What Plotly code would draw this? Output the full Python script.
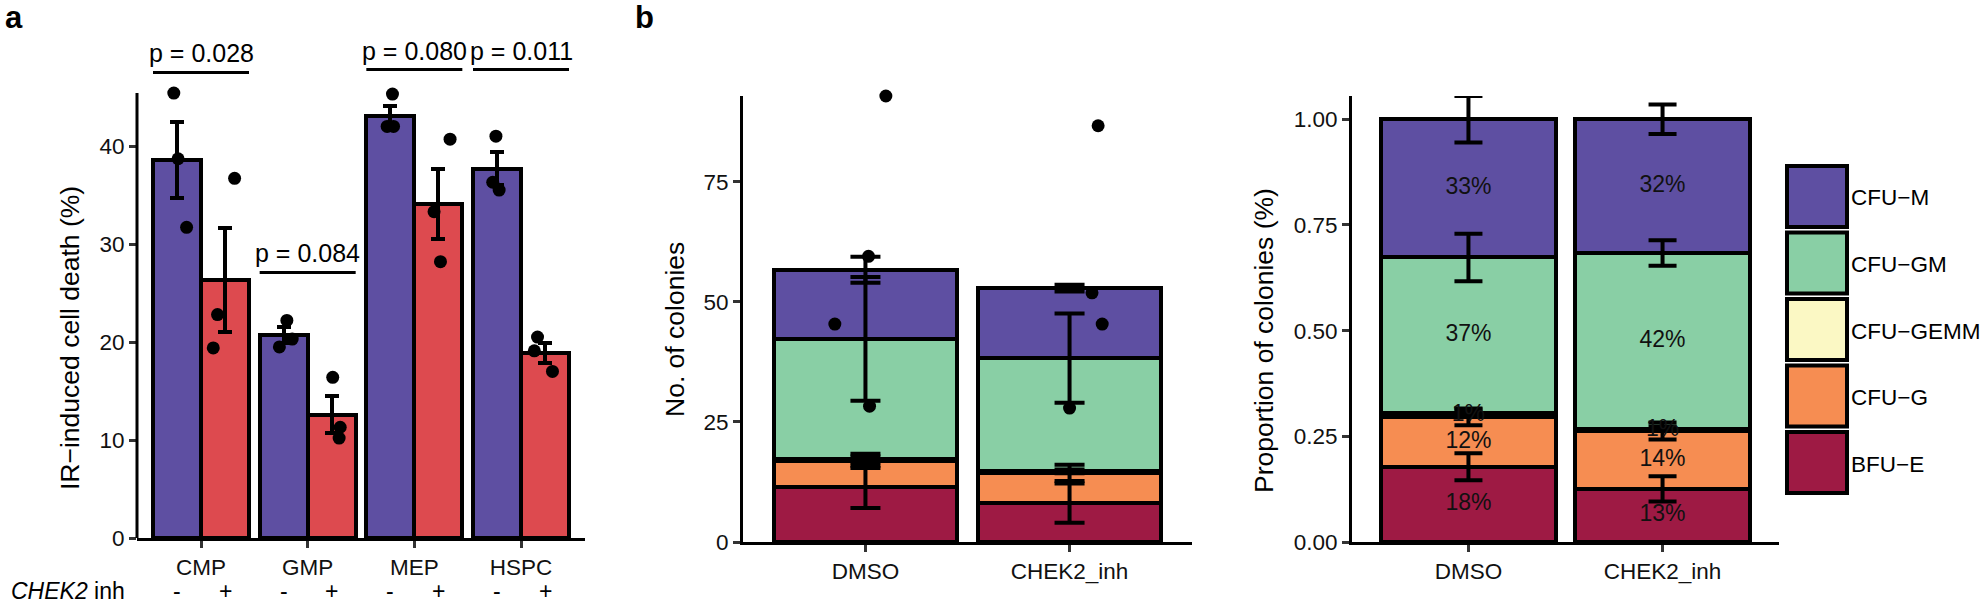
import plotly.graph_objects as go

W, H = 1988, 603
FONT = "Liberation Sans, Arial, Helvetica, sans-serif"

# ---------------- Panel a data ----------------
cell_types = ["CMP", "GMP", "MEP", "HSPC"]
death_ctrl = [38.6, 20.7, 43.1, 37.7]
death_inh = [26.3, 12.6, 34.1, 18.9]
se_ctrl = [3.9, 0.8, 1.0, 1.7]
se_inh = [5.3, 1.9, 3.6, 1.0]
pts_ctrl = [[45.4, 38.7, 31.7], [22.2, 19.5, 20.3], [45.3, 42.0, 42.0], [41.0, 36.3, 35.5]]
pts_inh = [[36.7, 22.8, 19.4], [16.4, 11.3, 10.2], [40.7, 33.3, 28.2], [20.5, 19.1, 17.0]]
jit_ctrl = [[-0.03, 0.01, 0.09], [0.03, -0.04, 0.08], [0.02, -0.03, 0.03], [-0.01, -0.04, 0.02]]
jit_inh = [[0.09, -0.07, -0.11], [0.01, 0.08, 0.07], [0.11, -0.04, 0.02], [-0.07, -0.10, 0.07]]
p_labels = ["p = 0.028", "p = 0.084", "p = 0.080", "p = 0.011"]
p_heights = [47.5, 27.1, 47.8, 47.8]
inh_signs = ["-", "+"]

# ---------------- Panel b data ----------------
treatments = ["DMSO", "CHEK2_inh"]
colony_types = ["BFU\u2212E", "CFU\u2212G", "CFU\u2212GEMM", "CFU\u2212GM", "CFU\u2212M"]  # bottom -> top
colony_colors = ["#9E1A44", "#F68D52", "#FBF8C4", "#89CFA5", "#5E4FA2"]
counts_dmso = [11.5, 5.4, 0.3, 25.1, 14.4]
counts_inh = [8.1, 6.3, 0.3, 23.6, 14.6]
count_sd_dmso = [4.4, 1.5, 0.6, 12.9, 2.7]
count_sd_inh = [4.1, 1.7, 0.4, 9.3, 0.7]
dots_dmso = [92.9, 59.5, 45.4, 28.3]
dots_inh = [86.7, 51.9, 45.4, 27.9]
dots_jit_dmso = [0.10, 0.015, -0.15, 0.02]
dots_jit_inh = [0.14, 0.11, 0.16, 0.0]

prop_dmso_raw = [0.178, 0.118, 0.010, 0.367, 0.327]
prop_inh_raw = [0.126, 0.137, 0.006, 0.416, 0.317]
prop_sd_dmso = [0.032, 0.020, 0.008, 0.056, 0.055]
prop_sd_inh = [0.030, 0.020, 0.005, 0.030, 0.035]

PURPLE = "#5E4FA2"
RED = "#DD4A4F"
BAR_LINE = dict(color="black", width=4)


def px_x(p):
    return p / W


def px_y(p):
    return (H - p) / H


def cumsum(v):
    out, s = [], 0.0
    for a in v:
        s += a
        out.append(s)
    return out


def txt_font(size):
    return dict(size=size, color="black", family=FONT)


fig = go.Figure()

# ---------------- Panel a ----------------
a_ymax_axis = max(max(r) for r in pts_ctrl + pts_inh)
a_ytop = 52.0
a_xdom = [px_x(137), px_x(585)]
a_ydom = [px_y(538), px_y(538 - a_ytop * 9.8)]
off = 0.225
for vals, ses, pts, jit, col, sgn in [
    (death_ctrl, se_ctrl, pts_ctrl, jit_ctrl, PURPLE, -1),
    (death_inh, se_inh, pts_inh, jit_inh, RED, 1),
]:
    xs = [i + sgn * off for i in range(len(cell_types))]
    fig.add_trace(go.Bar(
        x=xs, y=vals, width=0.45, marker=dict(color=col, line=BAR_LINE),
        error_y=dict(type="data", array=ses, color="black", thickness=4, width=7),
        xaxis="x", yaxis="y", showlegend=False))
    px_, py_ = [], []
    for i, row in enumerate(pts):
        for v, j in zip(row, jit[i]):
            px_.append(xs[i] + j)
            py_.append(v)
    fig.add_trace(go.Scatter(x=px_, y=py_, mode="markers",
                             marker=dict(color="black", size=13),
                             xaxis="x", yaxis="y", showlegend=False, cliponaxis=False))

for i, (lab, h) in enumerate(zip(p_labels, p_heights)):
    fig.add_trace(go.Scatter(x=[i - 0.45, i + 0.45], y=[h, h], mode="lines",
                             line=dict(color="black", width=3),
                             xaxis="x", yaxis="y", showlegend=False))
    fig.add_annotation(x=i, y=h, xref="x", yref="y", text=lab, showarrow=False,
                       xanchor="center", yanchor="bottom", yshift=3, font=txt_font(25))

# y-axis line of panel a (ends at data maximum, like the reference)
fig.add_shape(type="line", xref="paper", yref="paper",
              x0=a_xdom[0], x1=a_xdom[0], y0=a_ydom[0],
              y1=a_ydom[0] + (a_ymax_axis / a_ytop) * (a_ydom[1] - a_ydom[0]),
              line=dict(color="black", width=3))

# CHEK2 inh row
row_y = px_y(591)
for i in range(len(cell_types)):
    for sgn, s in zip([-1, 1], inh_signs):
        fig.add_annotation(x=i + sgn * off, y=row_y, xref="x", yref="paper", text=s,
                           showarrow=False, xanchor="center", yanchor="middle",
                           font=txt_font(23))
fig.add_annotation(x=px_x(9), y=row_y, xref="paper", yref="paper", xanchor="left",
                   yanchor="middle", text="<i>CHEK2</i> inh", showarrow=False,
                   font=txt_font(23))

# ---------------- Panel b (counts) ----------------
b_ydom = [px_y(542), px_y(96)]
b1_xdom = [px_x(743), px_x(1192)]
b2_xdom = [px_x(1352), px_x(1779)]
xs_b = [0, 1]
for k, name in enumerate(colony_types):
    fig.add_trace(go.Bar(x=xs_b, y=[counts_dmso[k], counts_inh[k]], width=0.9,
                         marker=dict(color=colony_colors[k], line=BAR_LINE),
                         xaxis="x2", yaxis="y2", showlegend=False, name=name))
cum_d = cumsum(counts_dmso)
cum_i = cumsum(counts_inh)
for k in range(len(colony_types)):
    fig.add_trace(go.Scatter(x=xs_b, y=[cum_d[k], cum_i[k]], mode="markers",
                             marker=dict(size=1, color="rgba(0,0,0,0)"),
                             error_y=dict(type="data", array=[count_sd_dmso[k], count_sd_inh[k]],
                                          color="black", thickness=4, width=15),
                             xaxis="x2", yaxis="y2", showlegend=False))
dx, dy = [], []
for v, j in zip(dots_dmso, dots_jit_dmso):
    dx.append(0 + j)
    dy.append(v)
for v, j in zip(dots_inh, dots_jit_inh):
    dx.append(1 + j)
    dy.append(v)
fig.add_trace(go.Scatter(x=dx, y=dy, mode="markers", marker=dict(color="black", size=13),
                         xaxis="x2", yaxis="y2", showlegend=False, cliponaxis=False))
b1_ymax = max(dots_dmso + dots_inh)

# ---------------- Panel b (proportions) ----------------
prop_dmso = [v / sum(prop_dmso_raw) for v in prop_dmso_raw]
prop_inh = [v / sum(prop_inh_raw) for v in prop_inh_raw]
pc_d = cumsum(prop_dmso)
pc_i = cumsum(prop_inh)
for k, name in enumerate(colony_types):
    fig.add_trace(go.Bar(x=xs_b, y=[prop_dmso[k], prop_inh[k]], width=0.9,
                         marker=dict(color=colony_colors[k], line=BAR_LINE),
                         xaxis="x3", yaxis="y3", showlegend=False, name=name))
for k in range(len(colony_types)):
    fig.add_trace(go.Scatter(x=xs_b, y=[pc_d[k], pc_i[k]], mode="markers",
                             marker=dict(size=1, color="rgba(0,0,0,0)"),
                             error_y=dict(type="data", array=[prop_sd_dmso[k], prop_sd_inh[k]],
                                          color="black", thickness=4, width=14),
                             xaxis="x3", yaxis="y3", showlegend=False))
for k in range(len(colony_types)):
    mids = [pc_d[k] - prop_dmso[k] / 2, pc_i[k] - prop_inh[k] / 2]
    txt = ["%d%%" % round(prop_dmso[k] * 100), "%d%%" % round(prop_inh[k] * 100)]
    fig.add_trace(go.Scatter(x=xs_b, y=mids, mode="text", text=txt,
                             textfont=dict(size=23, color="#111111", family=FONT),
                             xaxis="x3", yaxis="y3", showlegend=False, cliponaxis=False))
b2_ymax = max([c + s for c, s in zip(pc_d, prop_sd_dmso)] + [c + s for c, s in zip(pc_i, prop_sd_inh)])

# ---------------- Legend (drawn manually, large keys) ----------------
for r, k in enumerate(reversed(range(len(colony_types)))):
    top = 166 + r * 66.5
    fig.add_shape(type="rect", xref="paper", yref="paper",
                  x0=px_x(1787), x1=px_x(1847), y0=px_y(top + 61), y1=px_y(top),
                  fillcolor=colony_colors[k], line=dict(color="black", width=4))
    fig.add_annotation(x=px_x(1850), y=px_y(top + 32), xref="paper", yref="paper",
                       xanchor="left", yanchor="middle", text=colony_types[k],
                       showarrow=False, borderpad=0, font=txt_font(22.5))

# ---------------- Titles / letters ----------------
for xp, yp, t in [(70, 338, "IR\u2212induced cell death (%)"),
                  (675, 330, "No. of colonies"),
                  (1264, 341, "Proportion of colonies (%)")]:
    fig.add_annotation(x=px_x(xp), y=px_y(yp), xref="paper", yref="paper", text=t,
                       textangle=-90, showarrow=False, xanchor="center", yanchor="middle",
                       font=txt_font(26.5))
for xp, t in [(3, "a"), (633, "b")]:
    fig.add_annotation(x=px_x(xp), y=px_y(18), xref="paper", yref="paper", xanchor="left",
                       yanchor="middle", text="<b>%s</b>" % t, showarrow=False,
                       font=txt_font(31))

axis_common = dict(showgrid=False, zeroline=False, ticks="outside", ticklen=7, tickwidth=3,
                   tickcolor="#333333", tickfont=dict(size=22.5, color="#111111", family=FONT),
                   linecolor="black", linewidth=3, automargin=False)

fig.update_layout(
    template="none",
    width=W, height=H, autosize=False, margin=dict(l=0, r=0, t=0, b=0, pad=0),
    paper_bgcolor="white", plot_bgcolor="white", barmode="stack",
    font=dict(family=FONT, color="black"), showlegend=False,
    xaxis=dict(domain=a_xdom, range=[-0.6, 3.6], tickvals=list(range(len(cell_types))),
               ticktext=cell_types, showline=True, anchor="y", **axis_common),
    yaxis=dict(domain=a_ydom, range=[0, a_ytop], tickvals=[0, 10, 20, 30, 40],
               showline=False, anchor="x", **axis_common),
    xaxis2=dict(domain=b1_xdom, range=[-0.6, 1.6], tickvals=xs_b, ticktext=treatments,
                showline=True, anchor="y2", **axis_common),
    yaxis2=dict(domain=b_ydom, range=[0, b1_ymax], tickvals=[0, 25, 50, 75],
                showline=True, anchor="x2", **axis_common),
    xaxis3=dict(domain=b2_xdom, range=[-0.6, 1.6], tickvals=xs_b, ticktext=treatments,
                showline=True, anchor="y3", **axis_common),
    yaxis3=dict(domain=b_ydom, range=[0, b2_ymax], tickvals=[0, 0.25, 0.5, 0.75, 1.0],
                tickformat=".2f", showline=True, anchor="x3", **axis_common),
)

fig.write_html(
    "out.html",
    config={"displayModeBar": False, "responsive": False},
    post_script=("document.documentElement.style.margin='0px';"
                 "document.body.style.margin='0px';"
                 "document.body.style.overflow='hidden';"
                 "document.documentElement.style.overflow='hidden';"),
)
